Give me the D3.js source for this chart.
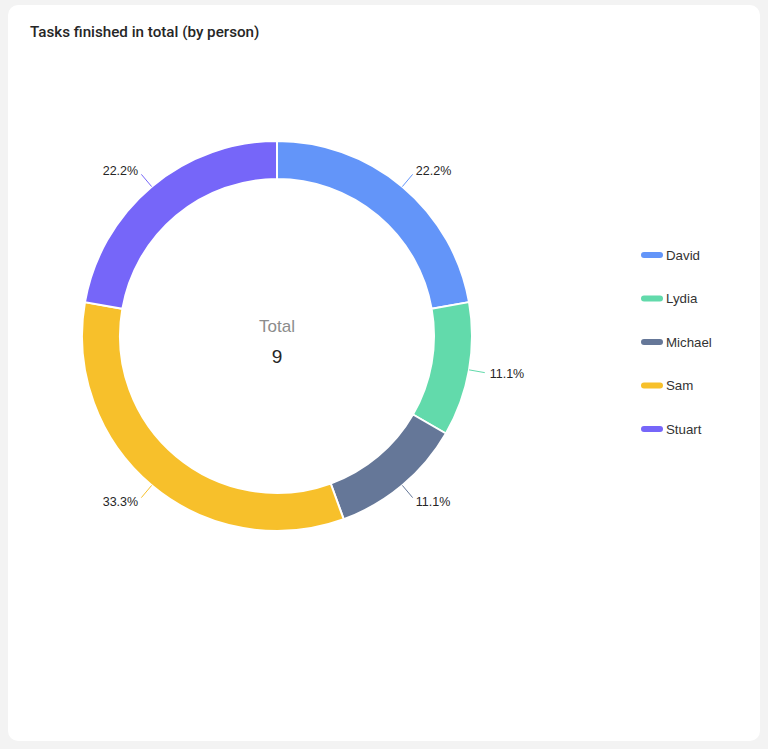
<!DOCTYPE html>
<html>
<head>
<meta charset="utf-8">
<script src="https://cdn.jsdelivr.net/npm/d3@7/dist/d3.min.js"></script>
<style>
  html, body { margin: 0; padding: 0; background: #f3f3f3; }
  body { width: 768px; height: 749px; overflow: hidden; font-family: "Helvetica Neue", "Liberation Sans", Arial, sans-serif; }
</style>
</head>
<body>
<svg id="chart" width="768" height="749"></svg>
<script>
const categories = ["David", "Lydia", "Michael", "Sam", "Stuart"];
const values = [2, 1, 1, 3, 2];
const colors = ["#6395F9", "#62DAAB", "#657798", "#F7C02B", "#7666F9"];
const title = "Tasks finished in total (by person)";
const centerLabel = "Total";

const svg = d3.select("#chart");

// card
svg.append("rect")
  .attr("x", 8).attr("y", 5).attr("width", 752).attr("height", 736)
  .attr("rx", 10).attr("ry", 10)
  .attr("fill", "#ffffff");

svg.append("text")
  .attr("x", 30).attr("y", 37)
  .attr("font-family", "Roboto, 'Liberation Sans', sans-serif")
  .attr("font-size", 15.2).attr("font-weight", 500)
  .attr("fill", "#262626")
  .text(title);

const cx = 277, cy = 336, outerR = 195, innerR = 157;
const total = d3.sum(values);
const data = categories.map((c, i) => ({ name: c, value: values[i], color: colors[i] }));

const pie = d3.pie().value(d => d.value).sort(null);
const arcs = pie(data);
const arc = d3.arc().innerRadius(innerR).outerRadius(outerR);

const g = svg.append("g").attr("transform", `translate(${cx},${cy})`);

g.selectAll("path.slice").data(arcs).enter().append("path")
  .attr("class", "slice")
  .attr("d", arc)
  .attr("fill", d => d.data.color)
  .attr("stroke", "#ffffff")
  .attr("stroke-width", 2);

const fmt = v => (v / total * 100).toFixed(1) + "%";
function pt(a, r) { return [Math.sin(a) * r, -Math.cos(a) * r]; }

arcs.forEach(d => {
  const a = (d.startAngle + d.endAngle) / 2;
  const p1 = pt(a, outerR), p2 = pt(a, outerR + 16), p3 = pt(a, outerR + 21);
  g.append("line")
    .attr("x1", p1[0]).attr("y1", p1[1]).attr("x2", p2[0]).attr("y2", p2[1])
    .attr("stroke", d.data.color).attr("stroke-width", 1);
  const right = Math.sin(a) >= 0;
  g.append("text")
    .attr("x", p3[0]).attr("y", p3[1])
    .attr("dy", "0.35em")
    .attr("text-anchor", right ? "start" : "end")
    .attr("font-size", 12.5).attr("fill", "#262626")
    .text(fmt(d.data.value));
});

g.append("text").attr("x", 0).attr("y", -10).attr("dy", "0.35em")
  .attr("text-anchor", "middle").attr("font-size", 17).attr("font-weight", 300)
  .attr("fill", "#8c8c8c").text(centerLabel);
g.append("text").attr("x", 0).attr("y", 20).attr("dy", "0.35em")
  .attr("text-anchor", "middle").attr("font-size", 19)
  .attr("fill", "#262626").text(total);

// legend
const legendY = d3.scalePoint().domain(categories).range([255, 429]);
const lg = svg.append("g");
categories.forEach((c, i) => {
  const y = legendY(c);
  lg.append("rect").attr("x", 641).attr("y", y - 3).attr("width", 22).attr("height", 6)
    .attr("rx", 3).attr("fill", colors[i]);
  lg.append("text").attr("x", 666).attr("y", y).attr("dy", "0.35em")
    .attr("font-size", 13.3).attr("fill", "#333333").text(c);
});
</script>
</body>
</html>
